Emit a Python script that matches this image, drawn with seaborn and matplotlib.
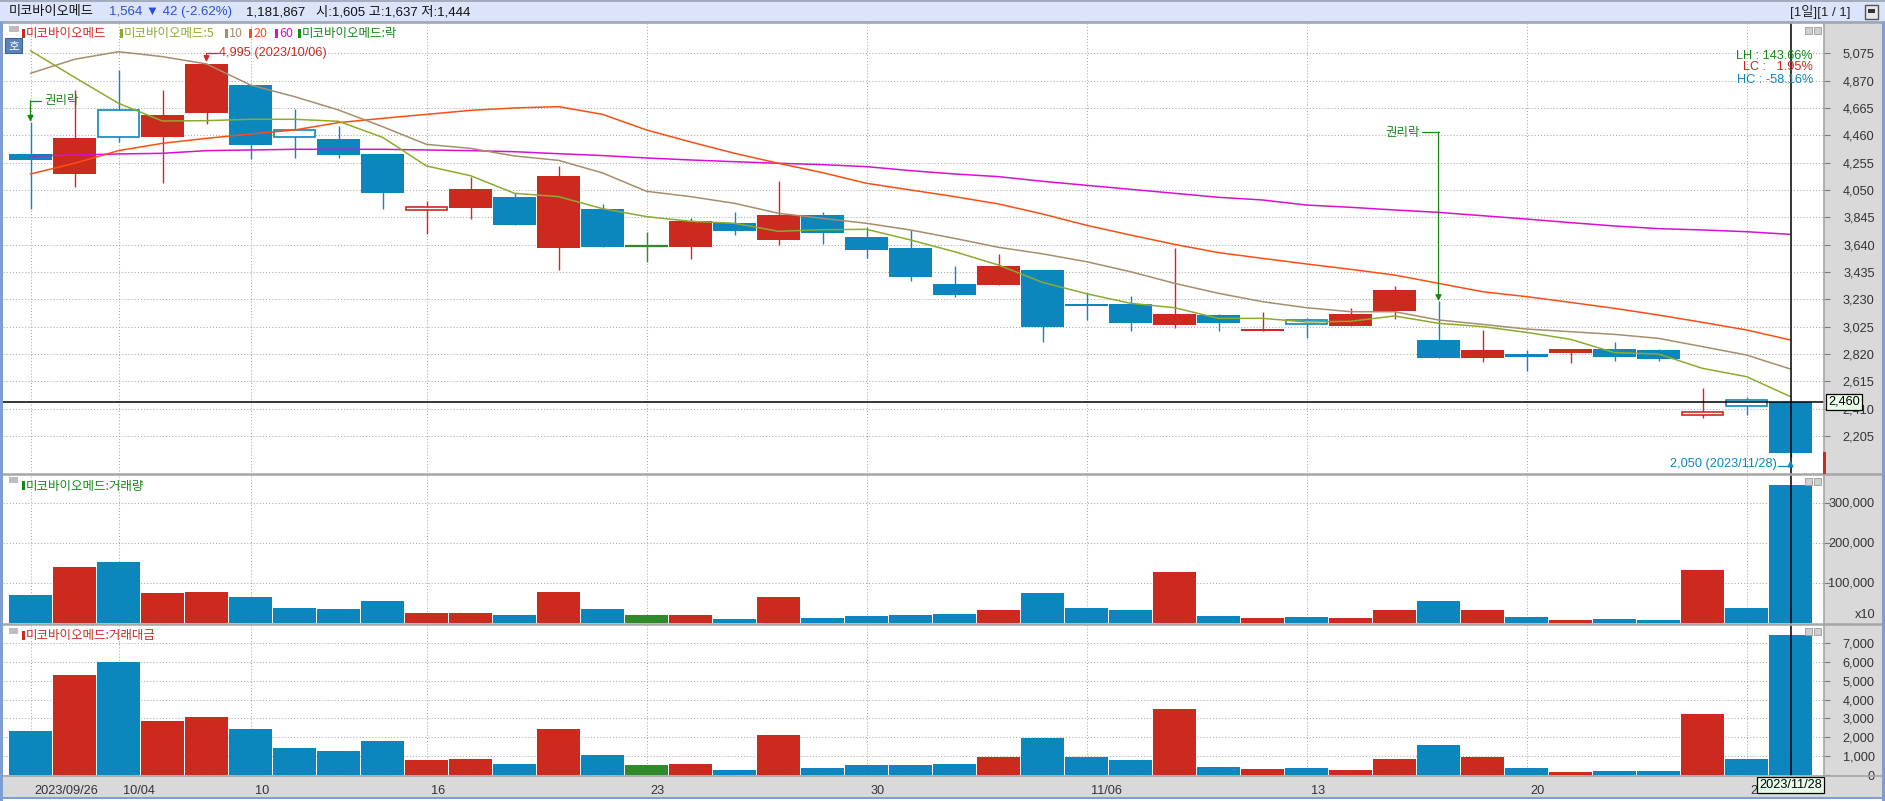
import numpy as np
import pandas as pd
import matplotlib
matplotlib.use("Agg")
import matplotlib.pyplot as plt
import matplotlib.transforms as mtransforms
from matplotlib.patches import Rectangle
from matplotlib.lines import Line2D
import seaborn as sns

# ---------------- data ----------------
dates = ['2023/09/26', '2023/09/27', '2023/10/04', '2023/10/05', '2023/10/06', '2023/10/10',
         '2023/10/11', '2023/10/12', '2023/10/13', '2023/10/16', '2023/10/17', '2023/10/18',
         '2023/10/19', '2023/10/20', '2023/10/23', '2023/10/24', '2023/10/25', '2023/10/26',
         '2023/10/27', '2023/10/30', '2023/10/31', '2023/11/01', '2023/11/02', '2023/11/03',
         '2023/11/06', '2023/11/07', '2023/11/08', '2023/11/09', '2023/11/10', '2023/11/13',
         '2023/11/14', '2023/11/15', '2023/11/16', '2023/11/17', '2023/11/20', '2023/11/21',
         '2023/11/22', '2023/11/23', '2023/11/24', '2023/11/27', '2023/11/28']
opens = [4320, 4170, 4449, 4449, 4630, 4837, 4450, 4432, 4320, 3920, 3917, 3997, 3617, 3908,
         3627, 3622, 3802, 3675, 3862, 3697, 3615, 3345, 3337, 3450, 3197, 3197, 3040, 3115,
         2992, 3042, 3030, 3142, 2925, 2790, 2820, 2830, 2857, 2850, 2365, 2427, 2460]
highs = [4562, 4800, 4950, 4800, 4995, 4837, 4657, 4530, 4320, 3965, 4150, 4025, 4230, 3945,
         3735, 3840, 3885, 4117, 3885, 3772, 3750, 3480, 3570, 3450, 3275, 3255, 3617, 3120,
         3135, 3087, 3165, 3330, 3217, 3000, 2850, 2857, 2910, 2860, 2567, 2500, 2460]
lows = [3905, 4075, 4410, 4105, 4547, 4280, 4292, 4292, 3907, 3720, 3832, 3789, 3450, 3623,
        3510, 3532, 3712, 3637, 3645, 3540, 3367, 3247, 3337, 2910, 3075, 2992, 3017, 2992,
        2992, 2937, 3030, 3082, 2790, 2760, 2695, 2755, 2770, 2770, 2342, 2362, 2050]
closes = [4275, 4439, 4647, 4612, 4995, 4390, 4500, 4312, 4030, 3897, 4057, 3789, 4157, 3623,
          3627, 3817, 3742, 3862, 3727, 3600, 3397, 3262, 3480, 3022, 3180, 3052, 3122, 3055,
          3007, 3075, 3120, 3300, 2790, 2850, 2800, 2857, 2800, 2782, 2382, 2475, 2080]
candle_kind = ['d', 'u', 'd', 'u', 'u', 'd', 'd', 'd', 'd', 'u', 'u', 'd', 'u', 'd', 'n', 'u',
               'd', 'u', 'd', 'd', 'd', 'd', 'u', 'd', 'd', 'd', 'u', 'd', 'u', 'd', 'u', 'u',
               'd', 'u', 'd', 'u', 'd', 'd', 'u', 'd', 'd']
hollow_idx = [2, 6, 9, 29, 38, 39]

ma5 = [5095, 4895, 4700, 4567, 4570, 4580, 4580, 4565, 4445, 4230, 4157, 4025, 4000, 3910,
       3850, 3815, 3800, 3740, 3752, 3755, 3675, 3587, 3487, 3357, 3272, 3200, 3167, 3087,
       3087, 3060, 3065, 3105, 3050, 3025, 2982, 2930, 2830, 2820, 2712, 2650, 2500]
ma10 = [4925, 5030, 5087, 5050, 4995, 4837, 4750, 4650, 4525, 4392, 4362, 4305, 4272, 4178,
        4040, 4000, 3950, 3875, 3837, 3800, 3750, 3687, 3620, 3571, 3512, 3437, 3350, 3275,
        3212, 3167, 3137, 3137, 3075, 3042, 3007, 2987, 2967, 2937, 2875, 2812, 2707]
ma20 = [4170, 4250, 4345, 4400, 4437, 4470, 4500, 4555, 4587, 4617, 4647, 4665, 4675, 4617,
        4500, 4410, 4325, 4250, 4180, 4100, 4050, 4000, 3945, 3870, 3785, 3712, 3642, 3580,
        3537, 3495, 3455, 3412, 3350, 3287, 3250, 3207, 3162, 3112, 3057, 3000, 2925]
ma60 = [4305, 4312, 4320, 4325, 4345, 4350, 4355, 4355, 4355, 4350, 4345, 4337, 4322, 4308,
        4290, 4275, 4262, 4250, 4240, 4225, 4195, 4170, 4150, 4115, 4085, 4055, 4025, 3995,
        3975, 3937, 3920, 3900, 3882, 3857, 3832, 3805, 3780, 3760, 3750, 3737, 3717]

volume = [68000, 138000, 151000, 73000, 76000, 63000, 36000, 33000, 53000, 23000, 23000,
          18000, 76000, 33000, 18000, 18000, 8000, 63000, 11000, 16000, 18000, 21000, 31000,
          73000, 36000, 31000, 126000, 16000, 11000, 13000, 11000, 31000, 53000, 31000, 13000,
          6000, 8000, 6000, 131000, 36000, 344000]
trade_value = [2330, 5300, 6000, 2870, 3080, 2440, 1430, 1270, 1800, 800, 850, 580, 2440, 1060,
               530, 580, 250, 2120, 370, 530, 530, 580, 970, 1960, 955, 800, 3500, 420, 320,
               370, 265, 850, 1590, 970, 370, 160, 210, 210, 3220, 850, 7430]

price_ticks = [5075, 4870, 4665, 4460, 4255, 4050, 3845, 3640, 3435, 3230, 3025, 2820, 2615,
               2410, 2205]
volume_ticks = [100000, 200000, 300000]
value_ticks = [0, 1000, 2000, 3000, 4000, 5000, 6000, 7000]
date_tick_idx = [0, 2, 5, 9, 14, 19, 24, 29, 34, 39]
date_tick_labels = ['2023/09/26', '10/04', '10', '16', '23', '30', '11/06', '13', '20', '27']
rights_idx = [0, 32]
crosshair_price = 2460

stock_name = '미코바이오메드'
header_change = '1,564 ▼ 42 (-2.62%)'
header_info = '1,181,867   시:1,605 고:1,637 저:1,444'
ratio_labels = ['LH : 143.66%', 'LC :   1.95%', 'HC : -58.16%']

# ---------------- style ----------------
RED, BLUE, GREEN = '#cc2a1f', '#0b87bd', '#2f8a2a'
PAL = {'u': RED, 'd': BLUE, 'n': GREEN}
MA_COLORS = {'MA5': '#8cab2e', 'MA10': '#a68d6c', 'MA20': '#ff4d12', 'MA60': '#d70fd7'}
ANN_GREEN = '#138a13'
GRID = '#a8a8a8'
TXT = '#333333'

sns.set_style('white')
NUM = ['Liberation Sans Narrow', 'Liberation Sans', 'Noto Sans CJK KR', 'DejaVu Sans']
KR = ['Noto Sans CJK KR', 'DejaVu Sans']
plt.rcParams['font.family'] = NUM
plt.rcParams['axes.unicode_minus'] = False
NUM_FS = 9.2

W, H = 1885, 801
fig = plt.figure(figsize=(W / 100, H / 100), dpi=100)
fig.patch.set_facecolor('white')


def fbox(x0, y0, x1, y1):
    return [x0 / W, 1 - y1 / H, (x1 - x0) / W, (y1 - y0) / H]


def add_rect(x0, y0, x1, y1, fc, ec='none', lw=0, z=-5):
    r = Rectangle((x0 / W, 1 - y1 / H), (x1 - x0) / W, (y1 - y0) / H, transform=fig.transFigure,
                  facecolor=fc, edgecolor=ec, linewidth=lw, zorder=z)
    fig.add_artist(r)


def add_hline(y, x0, x1, color, lw, z=20):
    fig.add_artist(Line2D([x0 / W, x1 / W], [1 - y / H, 1 - y / H], transform=fig.transFigure,
                          color=color, lw=lw, zorder=z))


def add_vline(x, y0, y1, color, lw, z=20):
    fig.add_artist(Line2D([x / W, x / W], [1 - y0 / H, 1 - y1 / H], transform=fig.transFigure,
                          color=color, lw=lw, zorder=z))


def ftext(x, y, s, **kw):
    kw.setdefault('va', 'center')
    return fig.text(x / W, 1 - y / H, s, **kw)


# backgrounds / frame
add_rect(0, 0, W, 22, '#dbe4fb')
add_hline(0.6, 0, W, '#9aa3b5', 1.2)
add_hline(21.5, 0, W, '#8ea6cf', 1.2)
add_rect(1824, 22, 1882, 797, '#d9d9d9')
add_rect(0, 776, 1882, 797, '#d9d9d9')
add_rect(0, 22, 3, 801, '#7e9ed2', z=25)
add_rect(1882, 22, W, 801, '#7e9ed2', z=25)
add_hline(797.5, 0, W, '#7e9ed2', 1.5)
add_hline(23, 3, 1882, '#a6a6a6', 1.2)
add_hline(474, 3, 1882, '#a6a6a6', 1.8)
add_hline(624, 3, 1882, '#a6a6a6', 1.8)
add_hline(776, 3, 1882, '#a6a6a6', 1.2)
add_vline(1824, 23, 776, '#a6a6a6', 1.2)

# axes
SP, C0 = 44.0, 30.5
XLIM = ((3 - C0) / SP, (1824 - C0) / SP)
ax_p = fig.add_axes(fbox(3, 23, 1824, 474))
ax_v = fig.add_axes(fbox(3, 474, 1824, 624))
ax_t = fig.add_axes(fbox(3, 624, 1824, 776))

idx = np.arange(len(dates))
BW = 43 / 44

# ---- candles ----
for i in idx:
    col = PAL[candle_kind[i]]
    ax_p.vlines(i, lows[i], highs[i], color=col, lw=1.0, zorder=3)
    lo, hi = min(opens[i], closes[i]), max(opens[i], closes[i])
    if candle_kind[i] == 'n':
        ax_p.hlines(closes[i], i - BW / 2, i + BW / 2, color=col, lw=1.6, zorder=4)
        continue
    hgt = max(hi - lo, 11)
    if i in hollow_idx:
        ax_p.add_patch(Rectangle((i - BW / 2 + 0.015, lo), BW - 0.03, hgt, facecolor='white',
                                 edgecolor=col, lw=1.2, zorder=4))
    else:
        ax_p.add_patch(Rectangle((i - BW / 2, lo), BW, hgt, facecolor=col, edgecolor='none',
                                 zorder=4))

# ---- moving averages ----
ma_long = pd.DataFrame({'idx': idx, 'MA60': ma60, 'MA20': ma20, 'MA10': ma10, 'MA5': ma5}) \
    .melt(id_vars='idx', var_name='ma', value_name='price')
sns.lineplot(data=ma_long, x='idx', y='price', hue='ma', palette=MA_COLORS, lw=1.1,
             legend=False, ax=ax_p, zorder=5)

# ---- volume & trade value ----
bars = pd.DataFrame({'idx': idx, 'volume': volume, 'value': trade_value, 'kind': candle_kind})
sns.barplot(data=bars, x='idx', y='volume', hue='kind', palette=PAL, dodge=False, width=BW,
            saturation=1, errorbar=None, legend=False, native_scale=True, linewidth=0, ax=ax_v)
sns.barplot(data=bars, x='idx', y='value', hue='kind', palette=PAL, dodge=False, width=BW,
            saturation=1, errorbar=None, legend=False, native_scale=True, linewidth=0, ax=ax_t)


def setup(ax, yticks, ylim):
    ax.set_xlim(*XLIM)
    ax.set_ylim(*ylim)
    ax.set_facecolor('white')
    ax.set_axisbelow(True)
    for s in ax.spines.values():
        s.set_visible(False)
    ax.set_xticks(date_tick_idx)
    ax.yaxis.tick_right()
    ax.set_yticks(yticks, labels=[f'{v:,}' for v in yticks])
    ax.grid(True, axis='both', color=GRID, ls=(0, (1, 2)), lw=0.75)
    ax.tick_params(axis='y', which='major', direction='out', length=4, width=0.8,
                   color='#7a7a7a', pad=32.5, labelsize=NUM_FS, labelcolor=TXT,
                   left=False, right=True, labelleft=False, labelright=True)
    for lab in ax.get_yticklabels():
        lab.set_horizontalalignment('right')
        lab.set_fontfamily(NUM)
    ax.tick_params(axis='x', length=0, labelbottom=False)
    ax.set_xlabel('')
    ax.set_ylabel('')


setup(ax_p, price_ticks, (5075 - (474 - 53.3) * 7.5, 5075 + (53.3 - 23) * 7.5))
setup(ax_v, volume_ticks, (-3750, 371250))
setup(ax_t, value_ticks, (-53, 8011))

ax_t.tick_params(axis='x', length=5, width=0.8, color='#7a7a7a', direction='out',
                 labelbottom=True, pad=1.5, labelsize=NUM_FS, labelcolor=TXT)
ax_t.set_xticks(date_tick_idx, labels=date_tick_labels)
off = mtransforms.ScaledTranslation(4 / 100, 0, fig.dpi_scale_trans)
for lab in ax_t.get_xticklabels():
    lab.set_horizontalalignment('left')
    lab.set_fontfamily(NUM)
    lab.set_transform(lab.get_transform() + off)

# ---- crosshair ----
last = len(dates) - 1
for ax in (ax_p, ax_v, ax_t):
    ax.axvline(last, color='black', lw=1.1, zorder=8)
ax_p.axhline(crosshair_price, color='black', lw=1.1, zorder=8)
ax_p.annotate(f'{crosshair_price:,}', xy=(1.0, crosshair_price), xycoords=('axes fraction', 'data'),
              xytext=(4, 0), textcoords='offset pixels', ha='left', va='center', fontsize=NUM_FS,
              family=NUM, color='black', annotation_clip=False, zorder=30,
              bbox=dict(boxstyle='square,pad=0.15', fc='#eaffea', ec='black', lw=0.9))
ax_t.annotate(dates[last], xy=(last, 0), xycoords=('data', 'axes fraction'),
              xytext=(0, -9), textcoords='offset pixels', ha='center', va='center',
              fontsize=NUM_FS, family=NUM, color='black', annotation_clip=False, zorder=30,
              bbox=dict(boxstyle='square,pad=0.15', fc='#eaffea', ec='black', lw=0.9))

# ---- high / low annotations ----
PX = 7.5  # price per pixel in the price panel
imax = int(np.argmax(highs))
y_top = 5075
ax_p.plot([imax, imax + 11.5 / SP], [y_top, y_top], color=RED, lw=0.9, zorder=6)
ax_p.annotate('', xy=(imax, highs[imax] + 2 * PX), xytext=(imax, y_top),
              arrowprops=dict(arrowstyle='-|>,head_length=0.35,head_width=0.18', color=RED,
                              lw=0.9, shrinkA=0, shrinkB=0), zorder=6)
ax_p.text(imax + 12.5 / SP, y_top, f'{highs[imax]:,} ({dates[imax]})', color=RED,
          fontsize=NUM_FS, family=NUM, va='center', ha='left', zorder=6)

imin = int(np.argmin(lows))
y_low = lows[imin] - 9.5 * PX
ax_p.plot([imin - 12.5 / SP, imin], [y_low, y_low], color=BLUE, lw=0.9, zorder=6)
ax_p.annotate('', xy=(imin, lows[imin] - 4 * PX), xytext=(imin, y_low),
              arrowprops=dict(arrowstyle='-|>,head_length=0.35,head_width=0.18', color=BLUE,
                              lw=0.9, shrinkA=0, shrinkB=0), zorder=9)
ax_p.text(imin - 14 / SP, y_low + 2 * PX, f'{lows[imin]:,} ({dates[imin]})', color=BLUE,
          fontsize=NUM_FS, family=NUM, va='center', ha='right', zorder=6)

# ---- rights-ex (권리락) markers ----
for k, ri in enumerate(rights_idx):
    if k == 0:
        ytxt = highs[ri] + 21 * PX
        ax_p.plot([ri, ri + 10 / SP], [ytxt, ytxt], color=ANN_GREEN, lw=0.9, zorder=6)
        ax_p.text(ri + 14 / SP, ytxt, '권리락', color=ANN_GREEN, fontsize=9, family=KR,
                  va='center', ha='left', zorder=6)
    else:
        ytxt = highs[ri] + 169 * PX
        ax_p.plot([ri - 17 / SP, ri], [ytxt, ytxt], color=ANN_GREEN, lw=0.9, zorder=6)
        ax_p.text(ri - 19 / SP, ytxt, '권리락', color=ANN_GREEN, fontsize=9, family=KR,
                  va='center', ha='right', zorder=6)
    ax_p.annotate('', xy=(ri, highs[ri]), xytext=(ri, ytxt),
                  arrowprops=dict(arrowstyle='-|>,head_length=0.35,head_width=0.18',
                                  color=ANN_GREEN, lw=0.9, shrinkA=0, shrinkB=0), zorder=6)

# ---- ratio texts ----
for s, c, yy in zip(ratio_labels, [ANN_GREEN, RED, BLUE], [56, 67.5, 80]):
    ftext(1813, yy, s, color=c, fontsize=NUM_FS, family=NUM, ha='right', zorder=30)

# ---- header ----
ftext(9, 12, stock_name, fontsize=9.5, family=KR, color='#111111', zorder=30)
ftext(109, 12, header_change, fontsize=9.5, family=NUM, color='#2b4fd6', zorder=30)
ftext(246, 12, header_info, fontsize=9.5, family=NUM, color='#111111', zorder=30)
ftext(1850, 12, '[1일][1 / 1]', fontsize=9.5, family=NUM, color='#222222', ha='right', zorder=30)
add_rect(1865, 5, 1878, 19, '#e8e8e8', ec='#555555', lw=1.0, z=30)
add_rect(1868, 9, 1875, 13, '#333333', z=31)

# ---- legends ----
add_rect(9, 26, 19, 32, '#bdbdbd', z=30)
add_rect(5, 38, 22, 53, '#5b84b8', ec='#3f6394', lw=0.8, z=30)
ftext(13.5, 45.5, '호', fontsize=8.5, family=KR, color='white', ha='center', zorder=31)
legend_items = [(22, stock_name, RED), (120, stock_name + ':5', MA_COLORS['MA5']),
                (225, '10', MA_COLORS['MA10']), (249, '20', MA_COLORS['MA20']),
                (275, '60', MA_COLORS['MA60']), (298, stock_name + ':락', ANN_GREEN)]
for x, s, c in legend_items:
    add_rect(x, 29, x + 3, 38, c, z=30)
    ftext(x + 4, 33.5, s, fontsize=9, family=KR, color=c, zorder=30)

add_rect(9, 477, 18, 483, '#bdbdbd', z=30)
add_rect(22, 481, 25, 490, ANN_GREEN, z=30)
ftext(26, 486, stock_name + ':거래량', fontsize=9, family=KR, color=ANN_GREEN, zorder=30)
add_rect(9, 628, 18, 634, '#bdbdbd', z=30)
add_rect(22, 631, 25, 640, RED, z=30)
ftext(26, 636, stock_name + ':거래대금', fontsize=9, family=KR, color=RED, zorder=30)

ftext(1875, 615, 'x10', fontsize=NUM_FS, family=NUM, color=TXT, ha='right', zorder=30)

# small panel buttons
for yb in (27, 478, 628):
    add_rect(1805, yb, 1812, yb + 7, '#d0d0d0', ec='#9a9a9a', lw=0.6, z=30)
    add_rect(1814, yb, 1821, yb + 7, '#d0d0d0', ec='#9a9a9a', lw=0.6, z=30)

# current price indicator (below visible range)
add_rect(1823, 452, 1826, 474, RED, z=30)

fig.savefig('out.png', dpi=100, facecolor=fig.get_facecolor())
